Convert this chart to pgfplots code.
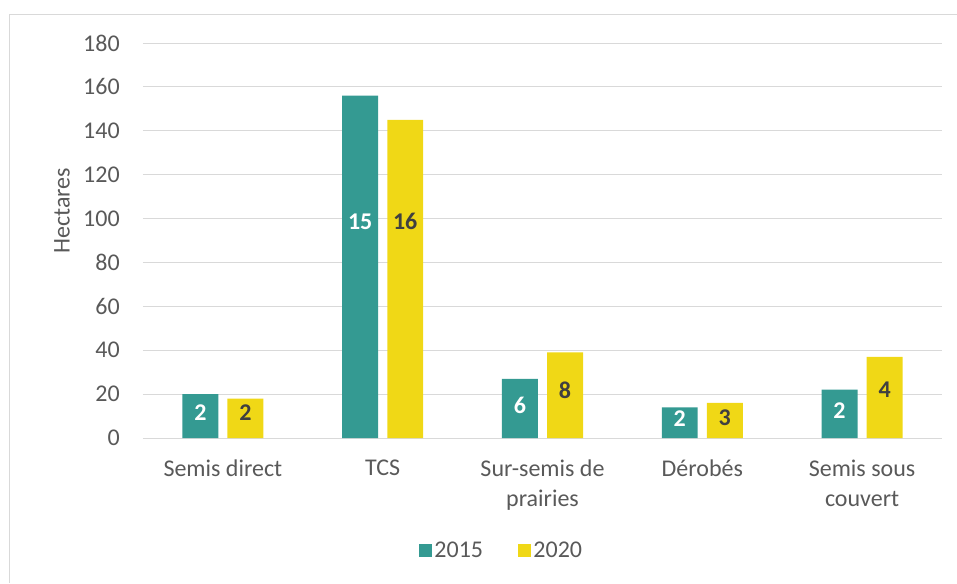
\documentclass[border=0pt]{standalone}
\usepackage{fontspec}
\setmainfont{Carlito}
\usepackage{xcolor}
\usepackage{pgfplots}
\pgfplotsset{compat=1.18}
\definecolor{barteal}{RGB}{52,154,146}
\definecolor{baryellow}{RGB}{240,216,22}
\definecolor{gridgray}{RGB}{217,217,217}
\definecolor{textgray}{RGB}{89,89,89}
\definecolor{labeldark}{RGB}{64,64,64}

\begin{document}
\begin{tikzpicture}
% page: 957x583 px, 1px = 0.75pt, plot box lower-left at (0,0)
\useasboundingbox (-107.25pt,-108.75pt) rectangle (610.5pt,328.5pt);
\begin{axis}[
  scale only axis,
  width=599.25pt, height=296.25pt,
  at={(0,0)}, anchor=south west,
  xmin=-0.5, xmax=4.5,
  ymin=0, ymax=180,
  xtick={0,1,2,3,4},
  xticklabels={Semis direct, TCS, Sur-semis de\\prairies, Dérobés, Semis sous\\couvert},
  ytick={0,20,...,180},
  axis lines*=left,
  y axis line style={draw=none},
  x axis line style={draw=gridgray, line width=0.75pt},
  major tick length=0pt,
  ymajorgrids=true,
  grid style={gridgray, line width=0.75pt},
  /pgf/number format/assume math mode=true,
  tick label style={font=\fontsize{18}{22.5}\selectfont, text=textgray},
  yticklabel style={anchor=east, inner sep=0pt, xshift=-17.25pt},
  xticklabel style={anchor=north, align=center, inner sep=0pt, yshift=-16pt},
  ylabel={Hectares},
  ylabel style={at={(axis description cs:-0.1014,0.575)}, anchor=center,
    font=\fontsize{18}{22.5}\selectfont, text=textgray},
  legend style={at={(axis description cs:0.449,-0.286)}, anchor=center,
    draw=none, fill=none, legend columns=2,
    font=\fontsize{18}{22.5}\selectfont, text=textgray,
    /tikz/every even column/.append style={column sep=24pt}},
  legend image code/.code={\fill[#1] (0pt,-4.875pt) rectangle (9.75pt,4.875pt);},
  clip=false,
]
  \addplot[ybar, bar width=0.225, bar shift=-0.141, fill=barteal, draw=none]
    coordinates {(0,20) (1,156) (2,27) (3,14) (4,22)};
  \addlegendentry{2015}
  \addplot[ybar, bar width=0.225, bar shift=0.141, fill=baryellow, draw=none]
    coordinates {(0,18) (1,145) (2,39) (3,16) (4,37)};
  \addlegendentry{2020}

  % data labels (numbers shown inside the bars)
  \addplot[forget plot, draw=none, mark=none, nodes near coords,
    point meta=explicit symbolic,
    every node near coord/.append style={anchor=center, inner sep=0pt,
      font=\fontsize{18}{22.5}\selectfont\bfseries, text=white}]
    coordinates {(-0.141,11.6)[2] (0.859,98.6)[15] (1.859,14.9)[6]
                 (2.859,8.7)[2] (3.859,12.7)[2]};
  \addplot[forget plot, draw=none, mark=none, nodes near coords,
    point meta=explicit symbolic,
    every node near coord/.append style={anchor=center, inner sep=0pt,
      font=\fontsize{18}{22.5}\selectfont\bfseries, text=labeldark}]
    coordinates {(0.141,11.5)[2] (1.141,98.6)[16] (2.141,21.9)[8]
                 (3.141,9.3)[3] (4.141,21.9)[4]};
\end{axis}
% chart frame
\draw[gridgray, line width=0.75pt] (-99.75pt,-108.75pt) -- (-99.75pt,318pt) -- (610.5pt,318pt);
\end{tikzpicture}
\end{document}
